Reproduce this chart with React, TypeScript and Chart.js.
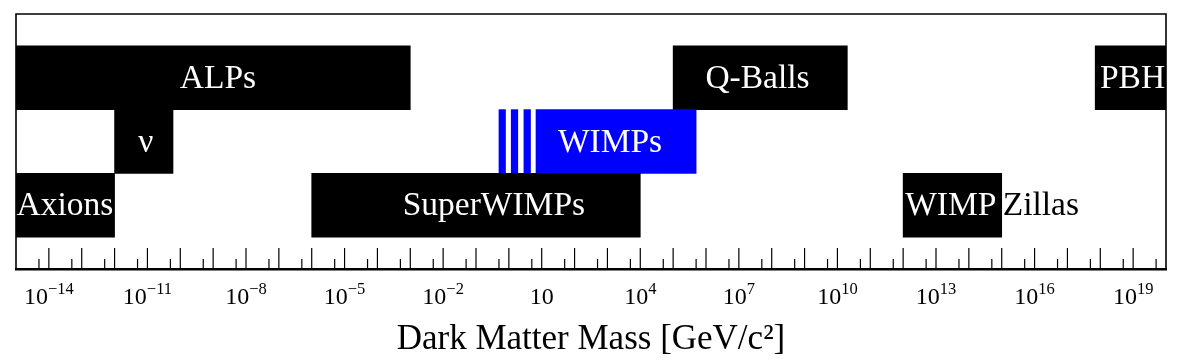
import React, { useEffect, useRef } from 'react';
import { Chart, registerables } from 'chart.js';

Chart.register(...registerables);

// ---- data ----
const ROW_LABELS = ['', 'top', 'middle', 'bottom', ' '];

const BAR_NAMES = ['ALPs', 'Q-Balls', 'PBH', 'ν', 'WIMPs', 'Axions', 'SuperWIMPs', 'WIMPZillas'];
const BAR_ROWS = ['top', 'top', 'top', 'middle', 'middle', 'bottom', 'bottom', 'bottom'];
const BAR_START = [1e-15, 1e5, 7e17, 1e-12, 6.7, 1e-15, 1e-6, 1e12];
const BAR_END = [1e-3, 2e10, 1e20, 6e-11, 5e5, 1e-12, 1e4, 1e15];
// where each label is centred, in GeV/c² (null: label starts at the bar's left edge)
const LABEL_AT: (number | null)[] = [1.4e-9, 3.7e7, 9.6e18, 9e-12, 1.2e3, 3.1e-14, 0.35, null];
// labels that are split into a part inside the bar and a part after it
const LABEL_SPLIT: Record<string, [string, string]> = { WIMPZillas: ['WIMP', 'Zillas'] };

const WIMP_STRIPE_START = [0.5, 1.18, 2.87];
const WIMP_STRIPE_END = [0.79, 1.87, 4.56];

const DECADE_EXPONENTS = [
  -14, -13, -12, -11, -10, -9, -8, -7, -6, -5, -4, -3, -2, -1, 0, 1, 2,
  3, 4, 5, 6, 7, 8, 9, 10, 11, 12, 13, 14, 15, 16, 17, 18, 19,
];
const MINOR_TICK_EXPONENTS = [
  -15, -14, -13, -12, -11, -10, -9, -8, -7, -6, -5, -4, -3, -2, -1, 0, 1,
  2, 3, 4, 5, 6, 7, 8, 9, 10, 11, 12, 13, 14, 15, 16, 17, 18, 19,
];
const LABELED_EXPONENTS = [-14, -11, -8, -5, -2, 1, 4, 7, 10, 13, 16, 19];

const AXIS_TITLE = 'Dark Matter Mass [GeV/c²]';

// ---- style ----
const SERIF = '"Liberation Serif", "DejaVu Serif", serif';
const BLUE = '#0000ff';
const BLACK = '#000000';
const WHITE = '#ffffff';
const BLUE_BARS = new Set(['WIMPs']);

const isDecade = (v: number) => {
  const l = Math.log10(v);
  return Math.abs(l - Math.round(l)) < 1e-6;
};

const decorPlugin = {
  id: 'decor',
  afterDatasetsDraw(chart: any) {
    const { ctx, chartArea: ca } = chart;
    const x = chart.scales.x;
    ctx.save();

    // frame (top, left, right)
    ctx.strokeStyle = BLACK;
    ctx.lineWidth = 1.6;
    ctx.beginPath();
    ctx.moveTo(ca.left, ca.bottom);
    ctx.lineTo(ca.left, ca.top);
    ctx.lineTo(ca.right, ca.top);
    ctx.lineTo(ca.right, ca.bottom);
    ctx.stroke();

    // tick marks pointing inward
    ctx.lineWidth = 1.2;
    for (const t of x.ticks) {
      const px = x.getPixelForValue(t.value);
      const len = isDecade(t.value) ? 21 : 10;
      ctx.beginPath();
      ctx.moveTo(px, ca.bottom);
      ctx.lineTo(px, ca.bottom - len);
      ctx.stroke();
    }

    // tick labels 10^n
    ctx.fillStyle = BLACK;
    ctx.textBaseline = 'alphabetic';
    ctx.textAlign = 'left';
    const baseFont = `24px ${SERIF}`;
    const expFont = `16.5px ${SERIF}`;
    for (const e of LABELED_EXPONENTS) {
      const px = x.getPixelForValue(Math.pow(10, e));
      ctx.font = baseFont;
      const wBase = ctx.measureText('10').width;
      let expText = '';
      let wExp = 0;
      if (e !== 1) {
        expText = e < 0 ? '\u2212' + String(-e) : String(e);
        ctx.font = expFont;
        wExp = ctx.measureText(expText).width;
      }
      const start = px - (wBase + wExp) / 2;
      ctx.font = baseFont;
      ctx.fillText('10', start, 304);
      if (expText) {
        ctx.font = expFont;
        ctx.fillText(expText, start + wBase, 294);
      }
    }

    // bar labels
    const meta = chart.getDatasetMeta(0);
    ctx.font = `33.5px ${SERIF}`;
    meta.data.forEach((el: any, i: number) => {
      const name = BAR_NAMES[i];
      const p = el.getProps(['x', 'y', 'base', 'height'], true);
      const left = Math.min(p.x, p.base);
      const right = Math.max(p.x, p.base);
      const top = p.y - p.height / 2;
      const h = p.height;
      const ty = p.y + 10;
      const split = LABEL_SPLIT[name];
      if (split) {
        ctx.textAlign = 'left';
        ctx.fillStyle = WHITE;
        ctx.fillText(split[0], left + 2, ty);
        ctx.fillStyle = BLACK;
        ctx.fillText(split[1], right + 1, ty);
        return;
      }
      const at = LABEL_AT[i];
      let tx: number;
      if (at == null) {
        ctx.textAlign = 'left';
        tx = left + 2;
      } else {
        ctx.textAlign = 'center';
        tx = x.getPixelForValue(at);
      }
      // outside the bar: black
      ctx.save();
      ctx.beginPath();
      ctx.rect(0, 0, chart.width, chart.height);
      ctx.rect(left, top, right - left, h);
      ctx.clip('evenodd');
      ctx.fillStyle = BLACK;
      ctx.fillText(name, tx, ty);
      ctx.restore();
      // inside the bar: white
      ctx.save();
      ctx.beginPath();
      ctx.rect(left, top, right - left, h);
      ctx.clip();
      ctx.fillStyle = WHITE;
      ctx.fillText(name, tx, ty);
      ctx.restore();
    });

    ctx.restore();
  },
};

export default function App() {
  const ref = useRef<HTMLCanvasElement | null>(null);

  useEffect(() => {
    document.body.style.margin = '0';
    const canvas = ref.current;
    if (!canvas) return;

    const mainData = BAR_NAMES.map((_, i) => ({ y: BAR_ROWS[i], x: [BAR_START[i], BAR_END[i]] }));
    const stripeData = WIMP_STRIPE_START.map((s, i) => ({ y: 'middle', x: [s, WIMP_STRIPE_END[i]] }));

    const tickValues = [
      ...DECADE_EXPONENTS.map((e) => Math.pow(10, e)),
      ...MINOR_TICK_EXPONENTS.map((e) => 5 * Math.pow(10, e)),
    ].sort((a, b) => a - b);

    const chart = new Chart(canvas, {
      type: 'bar',
      data: {
        labels: ROW_LABELS,
        datasets: [
          {
            data: mainData as any,
            backgroundColor: BAR_NAMES.map((n) => (BLUE_BARS.has(n) ? BLUE : BLACK)),
            borderWidth: 0,
            grouped: false,
            barPercentage: 1,
            categoryPercentage: 1,
          } as any,
          {
            data: stripeData as any,
            backgroundColor: BLUE,
            borderWidth: 0,
            grouped: false,
            barPercentage: 1,
            categoryPercentage: 1,
          } as any,
        ],
      },
      options: {
        indexAxis: 'y',
        animation: false,
        responsive: false,
        maintainAspectRatio: false,
        layout: { padding: { left: 16, right: 16, top: 14, bottom: 0 } },
        plugins: {
          legend: { display: false },
          tooltip: { enabled: false },
        },
        scales: {
          y: {
            type: 'category',
            display: false,
            offset: false,
            grid: { offset: false },
          },
          x: {
            type: 'logarithmic',
            min: 1e-15,
            max: 1e20,
            afterBuildTicks: (scale: any) => {
              scale.ticks = tickValues.map((v) => ({ value: v }));
            },
            afterFit: (scale: any) => {
              scale.height = 92;
            },
            ticks: { display: false },
            grid: { display: false },
            border: { display: true, color: BLACK, width: 2.5 },
            title: {
              display: true,
              text: AXIS_TITLE,
              color: BLACK,
              font: { family: SERIF, size: 35 },
              padding: { top: 0, bottom: 0 },
            },
          },
        },
      } as any,
      plugins: [decorPlugin],
    });

    return () => chart.destroy();
  }, []);

  return (
    <div style={{ width: 1182, height: 361 }}>
      <canvas ref={ref} width={1182} height={361} style={{ display: 'block' }} />
    </div>
  );
}
